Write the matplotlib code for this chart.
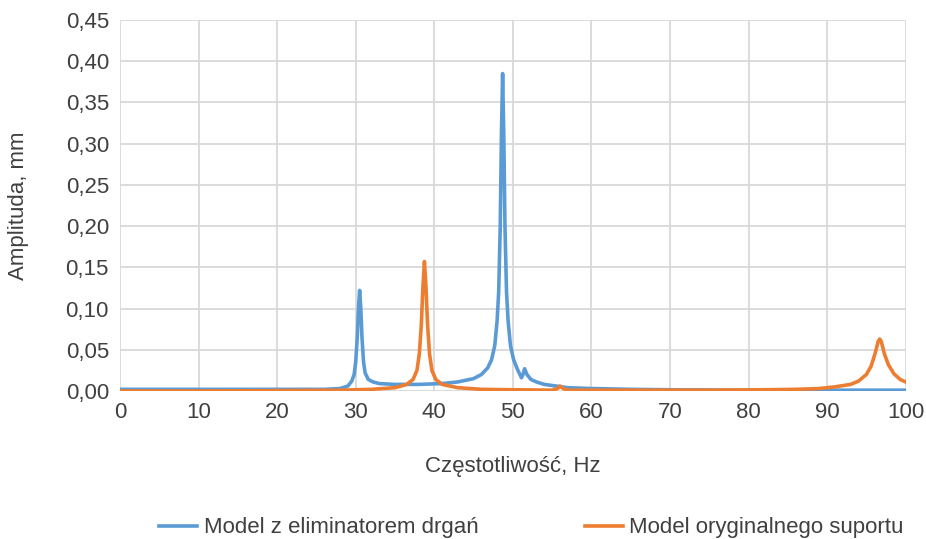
import matplotlib
matplotlib.use("Agg")
import matplotlib.pyplot as plt
from matplotlib.ticker import FuncFormatter

plt.rcParams['font.family'] = ['Liberation Sans', 'DejaVu Sans']

# Model z eliminatorem drgań
freq_blue = [0, 10, 20, 26, 28, 29, 29.5, 29.8, 30.0, 30.2, 30.35, 30.5, 30.65, 30.8,
             31.0, 31.2, 31.6, 32.2, 33, 35, 38, 41, 43, 45, 46, 46.8, 47.3, 47.7,
             48.0, 48.2, 48.4, 48.55, 48.7, 48.85, 49.0, 49.2, 49.4, 49.7, 50.1, 50.6,
             51.1, 51.3, 51.5, 51.8, 52.3, 53, 54, 55.5, 57, 60, 65, 70, 80, 90, 100]
amp_blue = [0.002, 0.002, 0.002, 0.002, 0.003, 0.006, 0.012, 0.02, 0.035, 0.065, 0.1,
            0.122, 0.1, 0.065, 0.035, 0.022, 0.014, 0.011, 0.009, 0.008, 0.008, 0.009,
            0.011, 0.015, 0.02, 0.028, 0.038, 0.055, 0.085, 0.12, 0.2, 0.31, 0.385,
            0.31, 0.2, 0.12, 0.085, 0.055, 0.038, 0.026, 0.016, 0.02, 0.027, 0.02,
            0.014, 0.011, 0.008, 0.006, 0.004, 0.003, 0.002, 0.0015, 0.001, 0.001, 0.001]

# Model oryginalnego suportu
freq_orange = [0, 10, 20, 28, 32, 35, 36.5, 37.3, 37.8, 38.1, 38.35, 38.55, 38.75, 38.95,
               39.15, 39.4, 39.7, 40.2, 41, 43, 46, 50, 55, 55.7, 56.0, 56.4, 57, 65,
               75, 82, 86, 89, 91, 93, 94, 95, 95.6, 96.1, 96.5, 96.7, 96.9, 97.3, 97.8,
               98.5, 99.3, 100]
amp_orange = [0.0, 0.0, 0.0005, 0.001, 0.002, 0.004, 0.008, 0.014, 0.025, 0.045, 0.08,
              0.125, 0.157, 0.125, 0.08, 0.045, 0.025, 0.014, 0.008, 0.004, 0.002,
              0.0015, 0.001, 0.003, 0.006, 0.003, 0.001, 0.001, 0.001, 0.0015, 0.002,
              0.003, 0.005, 0.008, 0.012, 0.02, 0.03, 0.045, 0.06, 0.063, 0.06, 0.045,
              0.032, 0.021, 0.014, 0.011]

blue = "#5B9BD5"
orange = "#ED7D31"
grid_color = "#D9D9D9"
text_color = "#404040"

fig = plt.figure(figsize=(9.26, 5.39), dpi=100)
ax = fig.add_axes([0.1296, 0.2746, 0.8484, 0.6884])

ax.plot(freq_blue, amp_blue, color=blue, lw=2.6, label="Model z eliminatorem drgań",
        solid_joinstyle="round")
ax.plot(freq_orange, amp_orange, color=orange, lw=2.6, label="Model oryginalnego suportu",
        solid_joinstyle="round")

ax.set_xlim(0, 100)
ax.set_ylim(0, 0.45)
ax.set_xticks(range(0, 101, 10))
ax.set_yticks([i * 0.05 for i in range(10)])
ax.yaxis.set_major_formatter(FuncFormatter(lambda v, p: f"{v:.2f}".replace(".", ",")))
ax.grid(True, color=grid_color, lw=1.3)
ax.set_axisbelow(True)
for s in ax.spines.values():
    s.set_visible(False)
ax.tick_params(length=0, labelsize=16, colors=text_color, pad=8)

ax.set_xlabel("Częstotliwość, Hz", fontsize=16, color=text_color, labelpad=24)
ax.set_ylabel("Amplituda, mm", fontsize=16, color=text_color, labelpad=26)

fig.legend(loc="lower center", ncol=2, frameon=False, fontsize=16,
           bbox_to_anchor=(0.574, -0.036), handlelength=1.7, handletextpad=0.3,
           columnspacing=4.8, labelcolor=text_color)

fig.savefig("out.png", dpi=100)
